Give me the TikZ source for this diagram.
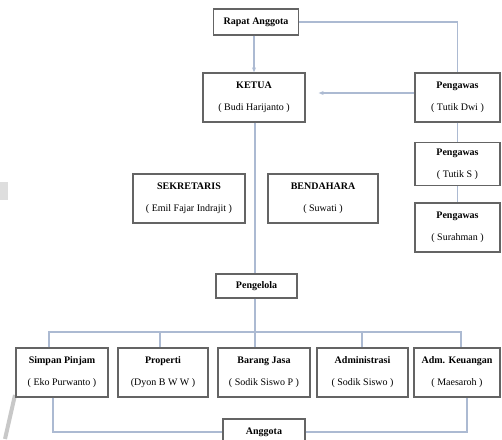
\documentclass[tikz,border=0pt]{standalone}
\usepackage{fontspec}
\setmainfont{Liberation Serif}
\usetikzlibrary{arrows.meta}
\definecolor{boxline}{RGB}{100,100,100}
\definecolor{linkline}{RGB}{172,186,210}
\definecolor{markgray}{RGB}{200,200,200}
\tikzset{
  unit/.style={draw=boxline, line width=1.3pt, fill=white, align=center,
    inner sep=0pt, font=\fontsize{10}{22}\selectfont},
  link/.style={draw=linkline, line width=1.2pt},
  linkarrow/.style={link, -{Stealth[length=5pt,width=4pt]}},
}
\newcommand{\unittext}[2]{\textbf{#1}\\#2}
\begin{document}
\begin{tikzpicture}[x=1pt,y=-1pt]
\useasboundingbox (0,0) rectangle (502,439);

% faint marks at the left edge
\fill[markgray!60] (0,182) rectangle (8,200);
\draw[markgray, line width=4pt] (15,395) -- (5,439);

% top level
\node[unit, minimum width=85pt, minimum height=26pt] (rapat) at (256,22) {\textbf{Rapat Anggota}};
\node[unit, minimum width=102pt, minimum height=49pt] (ketua) at (254,97.5) {\unittext{KETUA}{( Budi Harijanto )}};

% supervisors
\node[unit, minimum width=85pt, minimum height=49pt] (peng1) at (457.5,97.5) {\unittext{Pengawas}{( Tutik Dwi )}};
\node[unit, minimum width=85pt, minimum height=43pt] (peng2) at (457.5,164) {\unittext{Pengawas}{( Tutik S )}};
\node[unit, minimum width=85pt, minimum height=49pt] (peng3) at (457.5,227.5) {\unittext{Pengawas}{( Surahman )}};

% secretary and treasurer
\node[unit, minimum width=112pt, minimum height=49pt] (sekr) at (189,198.5) {\unittext{SEKRETARIS}{( Emil Fajar Indrajit )}};
\node[unit, minimum width=110pt, minimum height=49pt] (bend) at (323,198.5) {\unittext{BENDAHARA}{( Suwati )}};

% manager
\node[unit, minimum width=81pt, minimum height=24pt] (pengelola) at (256.5,286) {\textbf{Pengelola}};

% business units
\node[unit, minimum width=92pt, minimum height=49pt] (sp) at (62,372.5) {\unittext{Simpan Pinjam}{( Eko Purwanto )}};
\node[unit, minimum width=90pt, minimum height=49pt] (prop) at (163,372.5) {\unittext{Properti}{(Dyon B W W )}};
\node[unit, minimum width=92pt, minimum height=49pt] (bj) at (264,372.5) {\unittext{Barang Jasa}{( Sodik Siswo P )}};
\node[unit, minimum width=91pt, minimum height=49pt] (adm) at (362.5,372.5) {\unittext{Administrasi}{( Sodik Siswo )}};
\node[unit, minimum width=86pt, minimum height=49pt] (keu) at (457,372.5) {\unittext{Adm. Keuangan}{( Maesaroh )}};

% members
\node[unit, minimum width=82pt, minimum height=26pt] (anggota) at (264,432) {\textbf{Anggota}};

% bus and drop points
\coordinate (d1) at (49,332);
\coordinate (d2) at (160,332);
\coordinate (d3) at (255,332);
\coordinate (d4) at (362,332);
\coordinate (d5) at (461,332);
\coordinate (b1) at (53,431);
\coordinate (b2) at (467,431);

% main chain
\draw[linkarrow] (rapat.south -| ketua) -- (ketua.north);
\draw[link] (rapat.east) -| (peng1.north);
\draw[linkarrow] ([yshift=4.5pt]peng1.west) -- ([xshift=13pt,yshift=4.5pt]ketua.east);
\draw[link] (peng1.south) -- (peng2.north);
\draw[link] (peng2.south) -- (peng3.north);
\draw[link] (ketua.south -| d3) -- (pengelola.north -| d3);
\draw[link] (pengelola.south -| d3) -- (bj.north -| d3);

% bus to the units
\draw[link] (d1 |- sp.north) -- (d1) -- (d5) -- (d5 |- keu.north);
\draw[link] (d2) -- (d2 |- prop.north);
\draw[link] (d4) -- (d4 |- adm.north);

% units to members
\draw[link] (b1 |- sp.south) |- (anggota.west);
\draw[link] (anggota.east) -| (b2 |- keu.south);
\end{tikzpicture}
\end{document}
